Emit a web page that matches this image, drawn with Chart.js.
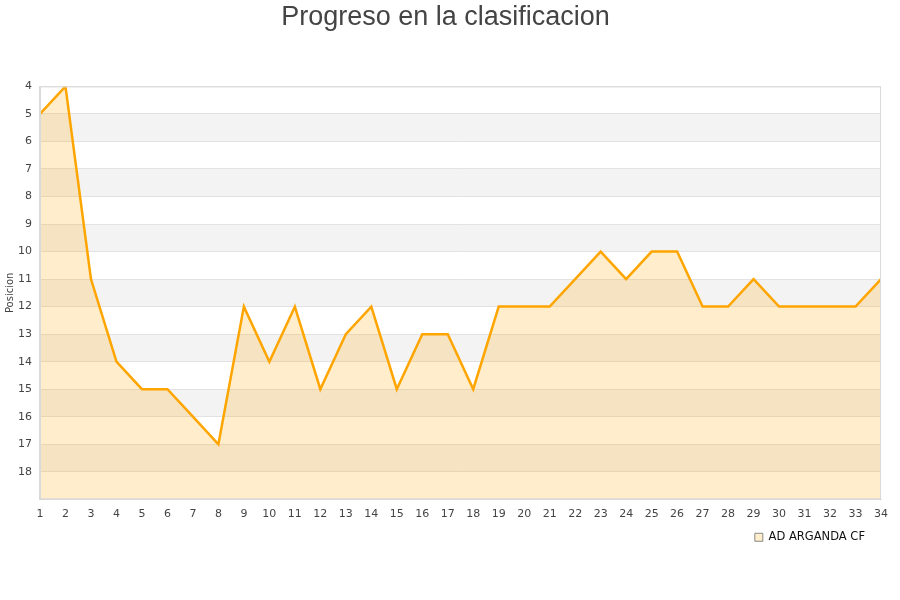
<!DOCTYPE html>
<html>
<head>
<meta charset="utf-8">
<script src="https://cdn.jsdelivr.net/npm/chart.js@4.4.1/dist/chart.umd.min.js"></script>
<style>
  html, body { margin: 0; padding: 0; background: #ffffff; }
  #wrap { width: 900px; height: 600px; }
</style>
</head>
<body>
<div id="wrap"><canvas id="c" width="900" height="600"></canvas></div>
<script>
const jornadas = [1,2,3,4,5,6,7,8,9,10,11,12,13,14,15,16,17,18,19,20,21,22,23,24,25,26,27,28,29,30,31,32,33,34];
const posiciones = [5,4,11,14,15,15,16,17,12,14,12,15,13,12,15,13,13,15,12,12,12,11,10,11,10,10,12,12,11,12,12,12,12,11];
const teamName = "AD ARGANDA CF";
const chartTitle = "Progreso en la clasificacion";
const yTitle = "Posicion";
const yMin = 4, yMax = 19;
const bandStarts = [5,7,9,11,13,15,17];

const bandPlugin = {
  id: 'bands',
  beforeDraw(chart) {
    const {ctx, chartArea, scales} = chart;
    const y = scales.y;
    ctx.save();
    ctx.fillStyle = '#f3f3f3';
    bandStarts.forEach(b => {
      const y1 = y.getPixelForValue(b);
      const y2 = y.getPixelForValue(b + 1);
      ctx.fillRect(chartArea.left, Math.min(y1, y2), chartArea.right - chartArea.left, Math.abs(y2 - y1));
    });
    ctx.restore();
  }
};

const framePlugin = {
  id: 'frame',
  afterLayout(chart) {
    const lg = chart.legend;
    if (lg) { lg.left -= 6; lg.right -= 6; lg.top -= 7; lg.bottom -= 7; }
  },
  afterDatasetsDraw(chart) {
    const {ctx, chartArea} = chart;
    ctx.save();
    ctx.strokeStyle = '#d9d9d9';
    ctx.lineWidth = 1;
    ctx.strokeRect(chartArea.left + 0.5, chartArea.top + 0.5, chartArea.right - chartArea.left - 1, chartArea.bottom - chartArea.top - 1);
    ctx.fillStyle = '#444444';
    ctx.font = '10px "DejaVu Sans", sans-serif';
    ctx.textAlign = 'center';
    ctx.textBaseline = 'middle';
    ctx.translate(10, (chartArea.top + chartArea.bottom) / 2);
    ctx.rotate(-Math.PI / 2);
    ctx.fillText(yTitle, 0, 0);
    ctx.restore();
  }
};

new Chart(document.getElementById('c'), {
  type: 'line',
  data: {
    datasets: [{
      label: teamName,
      data: jornadas.map((j, i) => ({x: j, y: posiciones[i]})),
      borderColor: '#ffa500',
      backgroundColor: 'rgba(255,165,0,0.2)',
      borderWidth: 2.5,
      pointRadius: 0,
      tension: 0,
      fill: {target: {value: yMax}}
    }]
  },
  options: {
    responsive: false,
    animation: false,
    layout: { padding: { left: 10, right: 19, top: 0, bottom: 40 } },
    plugins: {
      title: {
        display: true,
        text: chartTitle,
        color: '#444444',
        font: { family: 'Liberation Sans, Arial, sans-serif', size: 27, weight: 'normal' },
        padding: { top: 1, bottom: 53 }
      },
      legend: {
        display: true,
        position: 'bottom',
        align: 'end',
        labels: {
          boxWidth: 8,
          boxHeight: 8,
          color: '#111111',
          font: { family: 'DejaVu Sans, sans-serif', size: 11.5 },
          generateLabels(chart) {
            return [{
              text: teamName,
              fillStyle: '#ffeecc',
              strokeStyle: '#888888',
              lineWidth: 1,
              fontColor: '#111111',
              datasetIndex: 0
            }];
          }
        }
      },
      tooltip: { enabled: false }
    },
    scales: {
      x: {
        type: 'linear',
        min: 1,
        max: 34,
        grid: { display: false, drawTicks: false },
        border: { display: true, color: '#d9d9d9' },
        ticks: {
          stepSize: 1,
          color: '#444444',
          padding: 8,
          maxRotation: 0,
          autoSkip: false,
          font: { family: 'DejaVu Sans, sans-serif', size: 11 }
        }
      },
      y: {
        min: yMin,
        max: yMax,
        reverse: true,
        grid: { color: '#e2e2e2', drawTicks: false },
        border: { display: true, color: '#d9d9d9' },
        ticks: {
          stepSize: 1,
          color: '#444444',
          padding: 8,
          font: { family: 'DejaVu Sans, sans-serif', size: 11 },
          callback: v => (v === yMax ? '' : v)
        }
      }
    }
  },
  plugins: [bandPlugin, framePlugin]
});
</script>
</body>
</html>
